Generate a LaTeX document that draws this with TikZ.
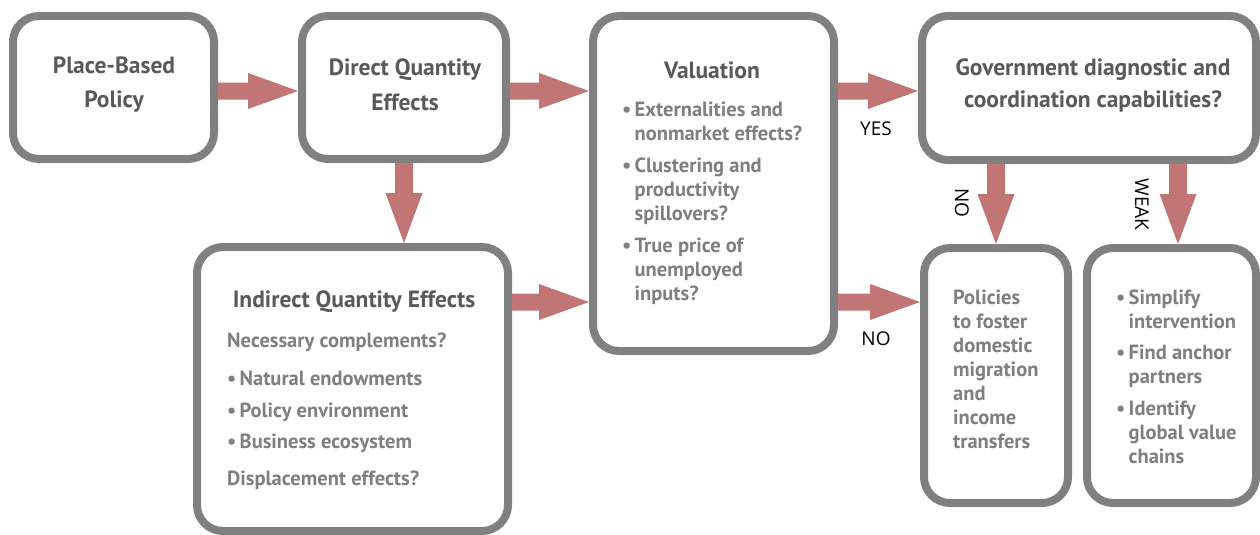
\documentclass[tikz,border=0pt]{standalone}
\usepackage{fontspec}
\setmainfont{PT Sans}
\newfontfamily\labelfont{Open Sans}
\usetikzlibrary{calc}

\definecolor{framegray}{RGB}{128,128,128}
\definecolor{titlegray}{RGB}{89,89,89}
\definecolor{bodygray}{RGB}{127,127,127}
\definecolor{flowred}{RGB}{193,117,117}

% bullet with hanging indent
\newcommand{\bul}{\makebox[12.5pt][l]{•}}
\newcommand{\ind}{\hspace*{12.5pt}}

% block arrows: #1 = start point, #2 = tip
\newcommand{\harrow}[2]{%
  \fill[flowred] ($(#1)+(0,-8.5)$) -- ($(#2)+(-50,-8.5)$) -- ($(#2)+(-50,-18)$)
    -- (#2) -- ($(#2)+(-50,18)$) -- ($(#2)+(-50,8.5)$) -- ($(#1)+(0,8.5)$) -- cycle;}
\newcommand{\varrow}[2]{%
  \fill[flowred] ($(#1)+(-9,0)$) -- ($(#2)+(-9,-50)$) -- ($(#2)+(-18.5,-50)$)
    -- (#2) -- ($(#2)+(18.5,-50)$) -- ($(#2)+(9,-50)$) -- ($(#1)+(9,0)$) -- cycle;}

\tikzset{
  box/.style={draw=framegray, line width=8pt, rounded corners=26pt, fill=white, inner sep=0pt},
  title/.style={font=\bfseries\fontsize{23.5}{33}\selectfont, text=titlegray, inner sep=0pt},
  body/.style={font=\bfseries\fontsize{20.5}{24}\selectfont, text=bodygray, inner sep=0pt, align=left},
  lab/.style={font=\labelfont\fontsize{19}{24}\selectfont, text=black, inner sep=0pt},
}

\begin{document}
\begin{tikzpicture}[x=1pt, y=-1pt]
\useasboundingbox (0,0) rectangle (1260,535);
\fill[white] (0,0) rectangle (1260,535);

% boxes
\node[box, minimum width=201pt, minimum height=143pt] (b1) at (113.5,87.5) {};
\node[box, minimum width=204pt, minimum height=143pt] (b2) at (404,87.5) {};
\node[box, minimum width=241pt, minimum height=335pt] (b3) at (713.5,183.5) {};
\node[box, minimum width=334pt, minimum height=144pt] (b4) at (1089,88) {};
\node[box, minimum width=311pt, minimum height=284pt] (b5) at (352.5,389) {};
\node[box, minimum width=144pt, minimum height=255pt] (b6) at (996,375.5) {};
\node[box, minimum width=169pt, minimum height=255pt] (b7) at (1171.5,375.5) {};

% rows and columns of the connectors
\coordinate (toprow) at (0,91);
\coordinate (lowrow) at (0,302);
\coordinate (weakx) at (1178,0);

% connectors
\harrow{b1.east |- toprow}{b2.west |- toprow}
\harrow{b2.east |- toprow}{b3.west |- toprow}
\harrow{b3.east |- toprow}{b4.west |- toprow}
\harrow{b5.east |- lowrow}{b3.west |- lowrow}
\harrow{b3.east |- lowrow}{b6.west |- lowrow}
\varrow{b2.south}{b5.north -| b2.south}
\varrow{b4.south -| b6.north}{b6.north}
\varrow{b4.south -| weakx}{b7.north -| weakx}

% titles
\node[title, anchor=base] (t1a) at (114,74) {Place-Based};
\node[title, anchor=base] (t1b) at (114,107) {Policy};
\node[title, anchor=base] (t2a) at (405,75) {Direct Quantity};
\node[title, anchor=base] (t2b) at (405,110) {Effects};
\node[title, anchor=base] (t3) at (712,78) {Valuation};
\node[title, anchor=base] (t4a) at (1093,75) {Government diagnostic and};
\node[title, anchor=base] (t4b) at (1093,107) {coordination capabilities?};
\node[title, anchor=base] (t5) at (354,307) {Indirect Quantity Effects};

% box texts (placed at the baseline of their last line)
\node[body, anchor=base west] (v) at (622,300)
  {\bul Externalities and\\ \ind nonmarket effects?\\[8pt]
   \bul Clustering and\\ \ind productivity\\ \ind spillovers?\\[8pt]
   \bul True price of\\ \ind unemployed\\ \ind inputs?};
\node[body, anchor=base west] (ind) at (227,485)
  {Necessary complements?\\[14pt]
   \bul Natural endowments\\[8pt]
   \bul Policy environment\\[7pt]
   \bul Business ecosystem\\[13pt]
   Displacement effects?};
\node[body, anchor=base west] (pol) at (953,448)
  {Policies\\to foster\\domestic\\migration\\and\\income\\transfers};
\node[body, anchor=base west] (simp) at (1116,463)
  {\bul Simplify\\ \ind intervention\\[7pt]
   \bul Find anchor\\ \ind partners\\[8pt]
   \bul Identify\\ \ind global value\\ \ind chains};

% branch labels
\node[lab, anchor=base] (yes) at (876,135) {YES};
\node[lab, anchor=base] (no1) at (876,345) {NO};
\node[lab, rotate=-90] (no2) at (962,203) {NO};
\node[lab, rotate=-90] (weak) at (1142,204.5) {WEAK};
\end{tikzpicture}
\end{document}
